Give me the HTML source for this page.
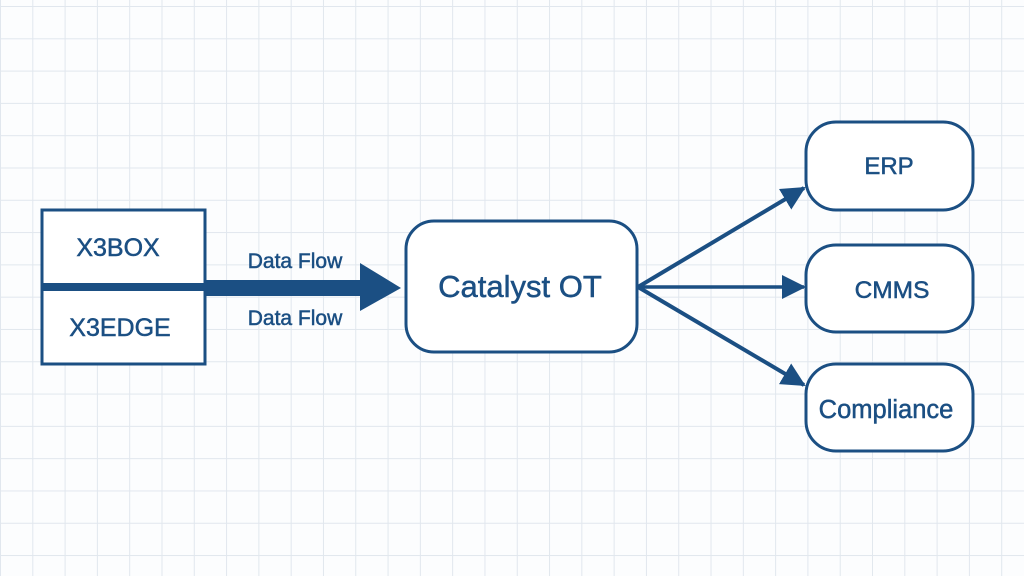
<!DOCTYPE html>
<html><head><style>
html,body{margin:0;padding:0;}
body{width:1024px;height:576px;background:#fcfdfe;overflow:hidden;
background-image:linear-gradient(to right,#e1e7ee 1px,transparent 1px),linear-gradient(to bottom,#e1e7ee 1px,transparent 1px);
background-size:32.3px 32.3px;background-position:0px 6px;}
svg{position:absolute;left:0;top:0;}
text{font-family:"Liberation Sans","DejaVu Sans",sans-serif;fill:#1b4f83;stroke:#1b4f83;stroke-width:0.5;}
</style></head><body>
<svg width="1024" height="576" viewBox="0 0 1024 576">
<defs>
<marker id="b" markerWidth="24" markerHeight="24" refX="22" refY="12" orient="auto" markerUnits="userSpaceOnUse" viewBox="0 0 24 24"><path d="M0,0 L24,12 L0,24z" fill="#1b4f83"/></marker></defs>
<g fill="#fff" stroke="#1b4f83" stroke-width="3">
<rect x="42" y="210" width="163" height="154"/>
<rect x="406" y="221" width="231" height="131" rx="28"/>
<rect x="806" y="122" width="167" height="88" rx="30"/>
<rect x="806" y="245" width="167" height="87" rx="30"/>
<rect x="806" y="364" width="167" height="87" rx="30"/>
</g>
<rect x="42" y="283" width="163" height="8" fill="#1b4f83"/>
<rect x="204" y="280" width="160" height="16" fill="#1b4f83"/>
<path d="M360,263 L401,288 L360,311z" fill="#1b4f83"/>
<g stroke="#1b4f83" stroke-width="4" fill="none">
<line x1="638" y1="287" x2="804" y2="188" marker-end="url(#b)"/>
<line x1="638" y1="287" x2="804" y2="287" stroke-width="3.5" marker-end="url(#b)"/>
<line x1="638" y1="287" x2="804" y2="385" marker-end="url(#b)"/>
</g>
<text x="118" y="256" font-size="25" text-anchor="middle">X3BOX</text>
<text x="120" y="336" font-size="25" text-anchor="middle">X3EDGE</text>
<text x="295" y="268" font-size="21" text-anchor="middle">Data Flow</text>
<text x="295" y="325" font-size="21" text-anchor="middle">Data Flow</text>
<text x="520" y="297" font-size="31" text-anchor="middle">Catalyst OT</text>
<text x="889" y="174" font-size="24" text-anchor="middle">ERP</text>
<text x="892" y="298" font-size="24.5" text-anchor="middle">CMMS</text>
<text x="886" y="418" font-size="25.5" text-anchor="middle">Compliance</text>
</svg>
</body></html>
